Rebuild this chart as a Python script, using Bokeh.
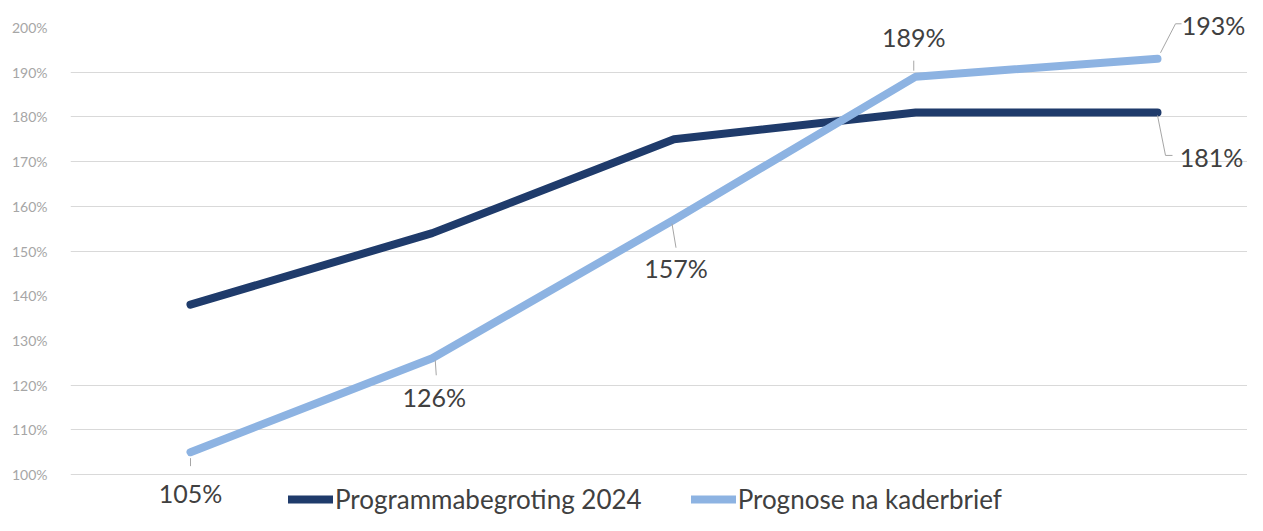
from bokeh.plotting import figure
from bokeh.models import (Range1d, FixedTicker, PrintfTickFormatter, Legend, LegendItem,
                          ColumnDataSource)
from bokeh.core.properties import value
from bokeh.embed import file_html
from bokeh.resources import INLINE

# ---- data ----
periods = [0, 1, 2, 3, 4]
programmabegroting = [138, 154, 175, 181, 181]
prognose = [105, 126, 157, 189, 193]
series_names = ["Programmabegroting 2024", "Prognose na kaderbrief"]
y_ticks = [100, 110, 120, 130, 140, 150, 160, 170, 180, 190, 200]
grid_ticks = [100, 110, 120, 150, 160, 170, 180, 190]

DARK = "#1f3b6b"
LIGHT = "#8db3e2"
LABEL_COLOR = "#404040"
LEADER = "#a6a6a6"
FONT = "Lato"

W, H = 1247, 515
LEFT = 70
frame_w = W - LEFT
px_per_x = 241.75
px_per_y = 4.47
x0 = -120 / px_per_x
y_top = 200 + 27 / px_per_y
y_bot = 100 - (H - 474) / px_per_y

p = figure(width=W, height=H, output_backend="svg", toolbar_location=None,
           x_range=Range1d(x0, x0 + frame_w / px_per_x),
           y_range=Range1d(y_bot, y_top),
           x_axis_location=None, min_border_left=LEFT, min_border_right=0,
           min_border_top=0, min_border_bottom=0)
p.outline_line_color = None
p.background_fill_color = "white"
p.border_fill_color = "white"

ax = p.yaxis[0]
ax.ticker = FixedTicker(ticks=y_ticks)
ax.formatter = PrintfTickFormatter(format="%d%%")
ax.axis_line_color = None
ax.major_tick_line_color = None
ax.minor_tick_line_color = None
ax.major_label_standoff = 17
ax.major_label_text_font = FONT
ax.major_label_text_font_size = "14px"
ax.major_label_text_color = "#a6a6a6"

p.xgrid.visible = False
p.ygrid.ticker = FixedTicker(ticks=grid_ticks)
p.ygrid.grid_line_color = "#d9d9d9"
p.ygrid.grid_line_width = 1

r1 = p.line(periods, programmabegroting, line_color=DARK, line_width=8, line_cap="round", line_join="round")
r2 = p.line(periods, prognose, line_color=LIGHT, line_width=8, line_cap="round", line_join="round")

def dx(px):
    return px / px_per_x

def dy(px):
    return -px / px_per_y

# leader lines (offsets in px relative to the data point)
leaders = [
    (periods[0], prognose[0], [(0, 6), (0, 14)]),
    (periods[1], prognose[1], [(3, 2), (4, 17)]),
    (periods[2], prognose[2], [(-2, 4), (2, 28)]),
    (periods[3], prognose[3], [(-2, -16), (-2, -6)]),
    (periods[4], prognose[4], [(3, -6), (18, -35), (24, -35)]),
    (periods[4], programmabegroting[4], [(0, 3), (8, 43), (15, 43)]),
]
for (px_, py_, pts) in leaders:
    p.line([px_ + dx(a) for a, b in pts], [py_ + dy(b) for a, b in pts],
           line_color=LEADER, line_width=1)

# data labels
lab_x = [periods[0], periods[1], periods[2], periods[3], periods[4], periods[4]]
lab_y = [prognose[0], prognose[1], prognose[2], prognose[3], prognose[4], programmabegroting[4]]
lab_t = [f"{v}%" for v in lab_y]
off_x = [0, 2, 2, -2, 56, 54]
off_y = [41, 39, 48, -40, -34, 45]
src = ColumnDataSource(dict(x=lab_x, y=lab_y, t=lab_t, ox=off_x, oy=off_y))
p.text(x="x", y="y", text="t", x_offset="ox", y_offset="oy", source=src,
       text_font=value(FONT), text_font_size="25px", text_color=LABEL_COLOR,
       text_align="center", text_baseline="middle")

legend = Legend(items=[LegendItem(label=series_names[0], renderers=[r1]),
                       LegendItem(label=series_names[1], renderers=[r2])],
                orientation="horizontal", location=(218, 0))
legend.glyph_width = 45
legend.glyph_height = 20
legend.label_standoff = 2
legend.spacing = 49
legend.padding = 0
legend.margin = 0
legend.border_line_color = None
legend.background_fill_alpha = 0
legend.label_text_font = FONT
legend.label_text_font_size = "26px"
legend.label_text_color = LABEL_COLOR
legend.label_height = 28
p.add_layout(legend, "center")

open("out.html", "w").write(file_html(p, INLINE))
